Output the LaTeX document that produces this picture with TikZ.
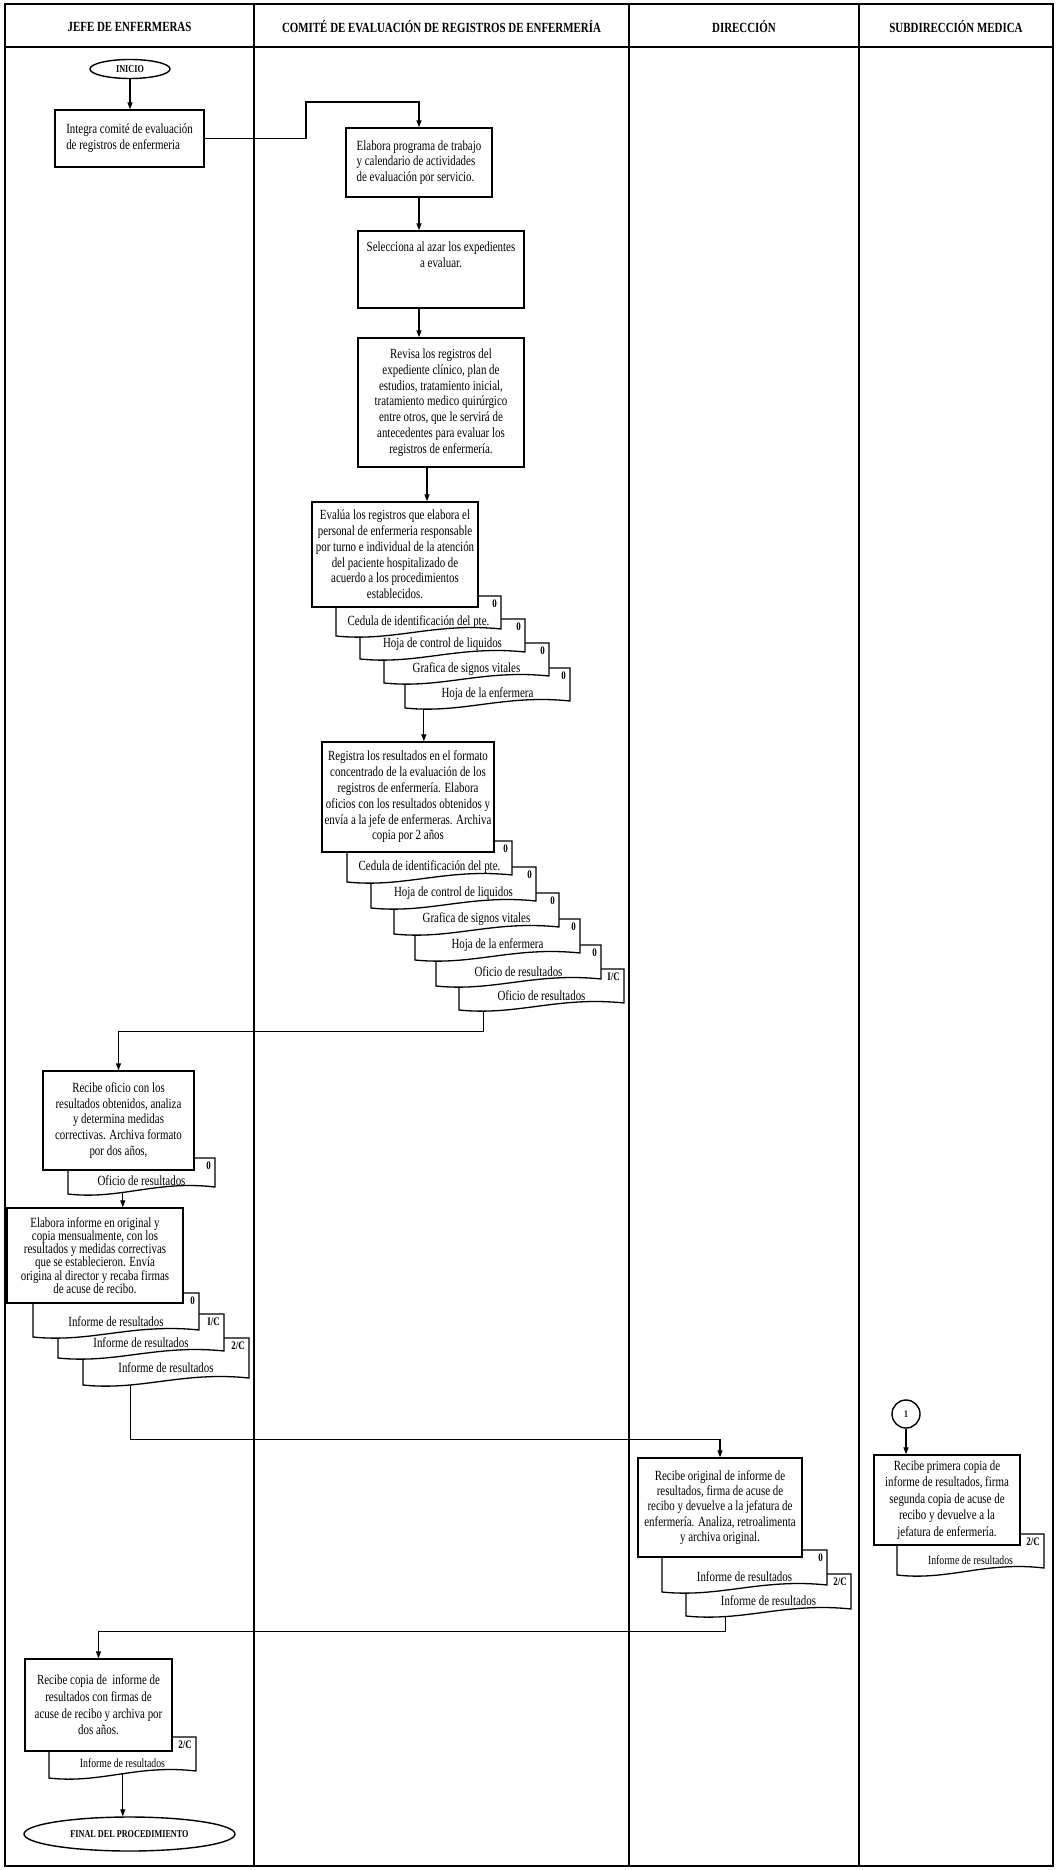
\documentclass[tikz,border=0pt]{standalone}
\usepackage{fontspec}
\setmainfont{Liberation Serif}[FakeStretch=0.78]
\usetikzlibrary{arrows.meta,shapes.geometric,backgrounds}

\tikzset{
  lane/.style = {line width = 1.6pt},
  lanetitle/.style = {font = \bfseries\fontsize{14}{16}\selectfont, inner sep = 0pt},
  proc/.style = {draw, line width = 1.4pt, fill = white, align = center,
    inner xsep = 0pt, inner ysep = 2pt, font = \fontsize{14}{15.8}\selectfont},
  say/.style = {align = center, inner sep = 0pt, font = \fontsize{14}{15.8}\selectfont},
  term/.style = {draw, ellipse, line width = 1.4pt, fill = white, inner sep = 0pt,
    font = \bfseries\fontsize{10.5}{12}\selectfont},
  doc/.style = {draw, line width = 1.3pt, fill = white},
  doctext/.style = {inner sep = 0pt, font = \fontsize{14}{16}\selectfont},
  copytag/.style = {anchor = north east, inner sep = 0pt,
    font = \bfseries\fontsize{11.5}{12}\selectfont},
  flow/.style = {line width = 1.3pt, -{Triangle[length = 7pt, width = 5pt]}}
}

% document shape: name, left, top, width, height, label, copy
\newcommand{\docshape}[7]{%
  \draw[doc] (#2,#3) -- ++(#4,0) -- ++(0,{#5-7})
    .. controls ({#2+0.6*#4},{#3+#5-14}) and ({#2+0.35*#4},{#3+#5+6})
    .. (#2,{#3+#5}) -- cycle;
  \node[minimum width = #4pt, minimum height = #5pt, inner sep = 0pt]
    (#1) at ({#2+#4/2},{#3+#5/2}) {};
  \node[doctext] (#1-t) at ({#2+#4/2},{#3+0.64*#5}) {#6};
  \node[copytag] (#1-c) at ({#2+#4-4},{#3+4}) {#7};
}

\begin{document}
\begin{tikzpicture}[x = 1pt, y = -1pt]
  \useasboundingbox (0,0) rectangle (1057,1870);

  % draws the lanes
  \begin{pgfonlayer}{background}
    \draw[lane] (5,4) rectangle (1053,1866);
    \draw[lane] (5,47) -- (1053,47);
    \foreach \x in {254,629,859}
      \draw[lane] (\x,4) -- (\x,1866);
  \end{pgfonlayer}

  % lane titles
  \foreach \x/\txt [count = \i] in {129.5/JEFE DE ENFERMERAS,
      441.5/COMITÉ DE EVALUACIÓN DE REGISTROS DE ENFERMERÍA,
      744/DIRECCIÓN, 956/SUBDIRECCIÓN MEDICA}
    \node[lanetitle] (lane\i) at (\x,27) {\txt};

  % jefe de enfermeras: start
  \node[term, minimum width = 80pt, minimum height = 19pt] (inicio) at (130,69) {INICIO};
  \node[proc, minimum width = 149pt, minimum height = 57pt, align = left]
    (integra) at (129.5,138.5) {Integra comité de evaluación\\de registros  de enfermeria};

  % comite: program and review
  \node[proc, minimum width = 146pt, minimum height = 69pt, align = left]
    (elabora) at (419,162.5)
    {Elabora programa de trabajo\\y calendario de actividades\\de evaluación por servicio.};
  \node[proc, minimum width = 166pt, minimum height = 77pt] (selecciona) at (441,269.5) {};
  \node[say] (selecciona-t) at (441,255) {Selecciona al azar los expedientes\\a evaluar.};
  \node[proc, minimum width = 166pt, minimum height = 129pt] (revisa) at (441,402.5)
    {Revisa los registros del\\expediente clínico, plan de\\estudios, tratamiento inicial,\\
     tratamiento medico quirúrgico\\entre otros, que le servirá de\\
     antecedentes para evaluar los\\registros de enfermería.};

  % comite: evaluation with its forms
  \foreach \n/\x/\y/\txt in {4/405/668/Hoja de la enfermera,
      3/384/643/Grafica de signos vitales,
      2/360/619/Hoja de control de liquidos,
      1/336/596/Cedula de identificación del pte.}
    {\docshape{a\n}{\x}{\y}{165}{40}{\txt}{0}}
  \node[proc, minimum width = 166pt, minimum height = 105pt] (evalua) at (395,554.5)
    {Evalúa los registros que elabora el\\personal de enfermeria responsable\\
     por turno e individual de la atención\\del paciente hospitalizado de\\
     acuerdo a  los procedimientos\\establecidos.};

  % comite: results with its forms
  \foreach \n/\x/\y/\txt/\cp in {6/459/969/Oficio de resultados/{I/C},
      5/436/945/Oficio de resultados/0,
      4/415/919/Hoja de la enfermera/0,
      3/394/893/Grafica de signos vitales/0,
      2/371/867/Hoja de control de liquidos/0,
      1/347/841/Cedula de identificación del pte./0}
    {\docshape{b\n}{\x}{\y}{165}{41}{\txt}{\cp}}
  \node[proc, minimum width = 172pt, minimum height = 110pt] (registra) at (408,797)
    {Registra los resultados en el formato\\concentrado de la evaluación de los\\
     registros de enfermería. Elabora\\oficios con los resultados obtenidos y\\
     envía a la jefe de enfermeras. Archiva\\copia por 2 años};

  % jefe de enfermeras: receives and reports
  \docshape{r1}{68}{1158}{147}{36}{Oficio de resultados}{0}
  \node[proc, minimum width = 151pt, minimum height = 99pt] (recibe) at (118.5,1120.5)
    {Recibe oficio con los\\resultados obtenidos, analiza\\y determina medidas\\
     correctivas. Archiva formato\\por dos años,};

  \foreach \n/\x/\y/\h/\cp in {3/83/1338/47/{2/C}, 2/58/1314/44/{I/C}, 1/33/1293/44/0}
    {\docshape{c\n}{\x}{\y}{166}{\h}{Informe de resultados}{\cp}}
  \node[proc, minimum width = 176pt, minimum height = 95pt,
    font = \fontsize{14}{13.2}\selectfont] (informe) at (95,1255.5)
    {Elabora informe en original y\\copia mensualmente, con los\\
     resultados y medidas correctivas\\que se establecieron. Envía\\
     origina al director y recaba firmas\\de acuse de recibo.};

  % direccion
  \foreach \n/\x/\y/\cp in {2/686/1574/{2/C}, 1/662/1550/0}
    {\docshape{d\n}{\x}{\y}{165}{42}{Informe de resultados}{\cp}}
  \node[proc, minimum width = 164pt, minimum height = 99pt,
    font = \fontsize{14}{15.4}\selectfont] (original) at (720,1507.5)
    {Recibe original de informe de\\resultados, firma de acuse de\\
     recibo y devuelve a la jefatura de\\enfermería. Analiza, retroalimenta\\
     y archiva original.};

  % subdireccion medica
  \node[draw, circle, line width = 1.4pt, minimum size = 28pt, inner sep = 0pt,
    font = \bfseries\fontsize{10}{11}\selectfont] (uno) at (906,1414) {1};
  \docshape{p1}{897}{1534}{147}{41}{\fontsize{12.5}{14}\selectfont Informe de resultados}{2/C}
  \node[proc, minimum width = 146pt, minimum height = 90pt,
    font = \fontsize{14}{16.6}\selectfont] (primera) at (947,1500)
    {Recibe primera copia de\\informe de resultados, firma\\segunda copia de acuse de\\
     recibo y devuelve a la\\jefatura de enfermería.};

  % jefe de enfermeras: end
  \docshape{k1}{49}{1737}{147}{41}{\fontsize{12.5}{14}\selectfont Informe de resultados}{2/C}
  \node[proc, minimum width = 147pt, minimum height = 92pt,
    font = \fontsize{14}{16.6}\selectfont] (copia) at (98.5,1705)
    {Recibe copia de\ \ informe de\\resultados con firmas de\\
     acuse de recibo y archiva por\\dos años.};
  \node[term, minimum width = 211pt, minimum height = 34pt] (final) at (129.5,1834)
    {FINAL DEL PROCEDIMIENTO};

  % draws the connectors
  \begin{pgfonlayer}{background}
    \coordinate (c1) at (306,102);
    \coordinate (rv) at ([xshift = -14pt]revisa.south);
    \coordinate (aout) at ([xshift = 19pt, yshift = 6pt]a4.south west);
    \coordinate (bout) at ([xshift = 25pt, yshift = 8pt]b6.south west);
    \coordinate (rout) at ([xshift = 55pt, yshift = 8pt]r1.south west);
    \coordinate (cout) at ([xshift = 48pt, yshift = 8pt]c3.south west);
    \coordinate (dout) at ([xshift = 40pt, yshift = 8pt]d2.south west);
    \coordinate (kout) at ([xshift = 74pt, yshift = 8pt]k1.south west);

    \draw[flow] (inicio.south) -- (inicio.south |- integra.north);
    \draw[flow] (integra.east) -| (c1) -| (elabora.north);
    \draw[flow] (elabora.south) -- (elabora.south |- selecciona.north);
    \draw[flow] (selecciona.south -| elabora.south) -- (revisa.north -| elabora.south);
    \draw[flow] (rv) -- (rv |- evalua.north);
    \draw[flow] (aout) -- (aout |- registra.north);
    \draw[flow] (bout) |- ([yshift = 39pt]recibe.north) -- (recibe.north);
    \draw[flow] (rout) -- (rout |- informe.north);
    \draw[flow] (cout) |- ([yshift = 18pt]original.north) -- (original.north);
    \draw[flow] (dout) |- ([yshift = 27pt]copia.north) -- (copia.north);
    \draw[flow] (uno.south) -- (uno.south |- primera.north);
    \draw[flow] (kout) -- (kout |- final.north);
  \end{pgfonlayer}
\end{tikzpicture}
\end{document}
